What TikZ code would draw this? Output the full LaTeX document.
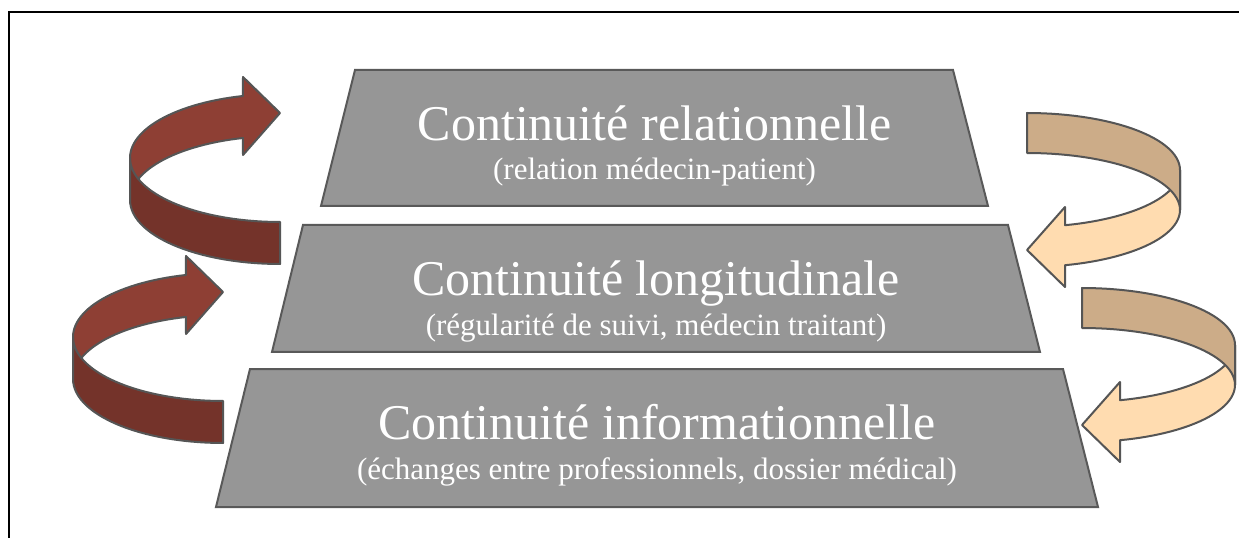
\documentclass[tikz,border=0pt]{standalone}
\usepackage{fontspec}
\setmainfont{Liberation Serif}
\definecolor{trapfill}{HTML}{969696}
\definecolor{trapline}{HTML}{595959}
\definecolor{redback}{HTML}{8E3F34}
\definecolor{redfront}{HTML}{74332A}
\definecolor{tanback}{HTML}{CCAC88}
\definecolor{peach}{HTML}{FFDCB0}
\definecolor{arrline}{HTML}{555555}
\tikzset{
  trap/.style={fill=trapfill, draw=trapline, line width=1.5pt, line join=miter},
  ribbon/.style={draw=arrline, line width=1.5pt, line join=round},
  titletext/.style={text=white, anchor=base, inner sep=0pt, font=\fontsize{37.5}{40}\selectfont},
  subtext/.style={text=white, anchor=base, inner sep=0pt, font=\fontsize{23.25}{26}\selectfont},
}
\newcommand\redcurl[2]{%
  \begin{scope}[shift={(#1,#2)}]
    \filldraw[ribbon, fill=redback]
      plot[domain=180:255.7,samples=30] ({150*cos(\x)},{64*sin(\x)})
      -- (-37,-81) -- (0,-45) -- (-37,-3)
      -- plot[domain=255.7:180,samples=30] ({150*cos(\x)},{42+64*sin(\x)}) -- cycle;
    \filldraw[ribbon, fill=redfront]
      plot[domain=180:90,samples=30] ({150*cos(\x)},{64*sin(\x)})
      -- plot[domain=90:180,samples=30] ({150*cos(\x)},{42+64*sin(\x)}) -- cycle;
  \end{scope}}
\newcommand\tancurl[2]{%
  \begin{scope}[shift={(#1,#2)}]
    \filldraw[ribbon, fill=peach]
      plot[domain=0:75.6,samples=30] ({153*cos(\x)},{57*sin(\x)})
      -- (38,37) -- (0,80) -- (38,117)
      -- plot[domain=75.6:0,samples=30] ({153*cos(\x)},{40+57*sin(\x)}) -- cycle;
    \filldraw[ribbon, fill=tanback]
      plot[domain=270:360,samples=30] ({153*cos(\x)},{57*sin(\x)})
      -- plot[domain=360:270,samples=30] ({153*cos(\x)},{40+57*sin(\x)}) -- cycle;
  \end{scope}}
\begin{document}
\begin{tikzpicture}[x=0.75pt,y=-0.75pt]
\useasboundingbox[fill=white] (0,0) rectangle (1239,538);
\draw[line width=2pt] (9,538) -- (9,12) -- (1239,12);

% trapezoids
\filldraw[trap] (355,70) -- (953,70) -- (988,206) -- (321,206) -- cycle;
\filldraw[trap] (303,225) -- (1008,225) -- (1040,352) -- (272,352) -- cycle;
\filldraw[trap] (250,369) -- (1063,369) -- (1098,507) -- (216,507) -- cycle;

% arrows
\redcurl{280}{158}
\redcurl{223}{337}
\tancurl{1027}{170}
\tancurl{1082}{345}

% texts
\node[titletext] (t1) at (654.5,141) {Continuité relationnelle};
\node[subtext] (s1) at (654.5,180) {(relation médecin-patient)};
\node[titletext] (t2) at (656,296) {Continuité longitudinale};
\node[subtext] (s2) at (656,335) {(régularité de suivi, médecin traitant)};
\node[titletext] (t3) at (657,439) {Continuité informationnelle};
\node[subtext] (s3) at (657,479) {(échanges entre professionnels, dossier médical)};
\end{tikzpicture}
\end{document}
